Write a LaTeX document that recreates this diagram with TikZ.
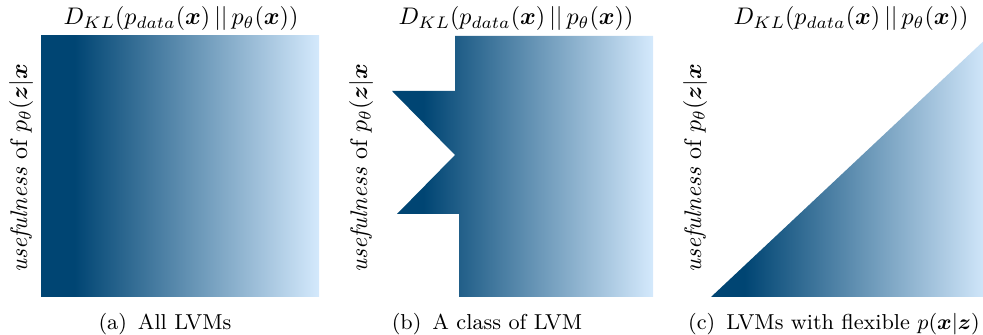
\documentclass[tikz,border=0pt]{standalone}
\usepackage{amsmath,amssymb,bm}
\usepackage{xcolor}
\usepackage{tikz}
\usetikzlibrary{positioning,calc}

\definecolor{lvmdark}{RGB}{0,69,115}
\definecolor{lvmlight}{RGB}{212,233,252}
\pgfdeclarehorizontalshading{lvmfade}{100bp}{color(0bp)=(lvmdark); color(25bp)=(lvmdark); color(31bp)=(lvmdark); color(75bp)=(lvmlight); color(100bp)=(lvmlight)}

\newcommand{\klterm}{$D_{KL}(p_{data}(\bm{x})\,||\,p_\theta(\bm{x}))$}
\newcommand{\usefterm}{\textit{usefulness} of $p_\theta(\bm{z}|\bm{x}$}

\begin{document}
\begin{tikzpicture}[
    x=0.4167pt, y=-0.4167pt,
    region/.style={shading=lvmfade},
    klabel/.style={inner sep=0pt},
    ylab/.style={inner sep=0pt, rotate=90},
    subcap/.style={inner sep=0pt, font=\small},
]
\useasboundingbox (0,0) rectangle (983,335);

% (a) all LVMs
\shade[region] (41,36) rectangle (319,297);
\node[klabel] (titleA) at (181,19) {\klterm};
\node[ylab] (ylabA) at (21,168) {\usefterm};
\node[subcap] (capA) at (165,324) {(a)\ \,All LVMs};

% (b) a class of LVM
\shade[region] (455,36) -- (653,36) -- (653,297) -- (459,297) -- (459,214)
    -- (397,214) -- (455,155) -- (392,91) -- (455,91) -- cycle;
\node[klabel] (titleB) at (516,19) {\klterm};
\node[ylab] (ylabB) at (361,168) {\usefterm};
\node[subcap] (capB) at (487,324) {(b)\ \,A class of LVM};

% (c) flexible decoder
\shade[region] (711,297) -- (989,297) -- (989,36) -- cycle;
\node[klabel] (titleC) at (851,19) {\klterm};
\node[ylab] (ylabC) at (695,168) {\usefterm};
\node[subcap] (capC) at (834,324) {(c)\ \,LVMs with flexible $p(\bm{x}|\bm{z})$};
\end{tikzpicture}
\end{document}
